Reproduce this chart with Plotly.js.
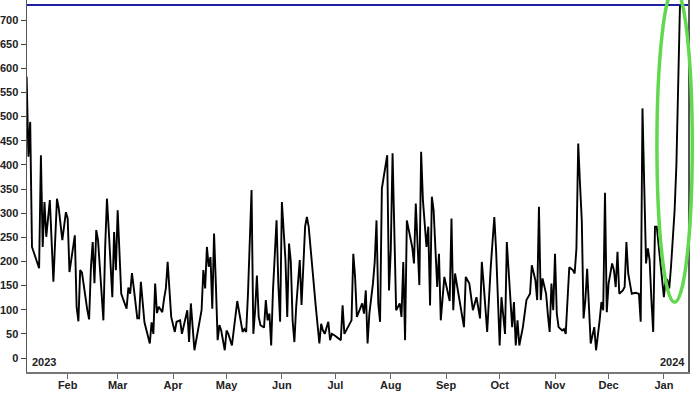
<!DOCTYPE html>
<html>
<head>
<meta charset="utf-8">
<script src="https://cdn.plot.ly/plotly-3.0.1.min.js"></script>
<style>html,body{margin:0;padding:0;background:#fff;}#chart{width:700px;height:394px;}</style>
</head>
<body>
<div id="chart"></div>
<script>
const dates = [
"2023-01-09","2023-01-10","2023-01-11","2023-01-12","2023-01-16","2023-01-17","2023-01-18","2023-01-19","2023-01-20","2023-01-22",
"2023-01-24","2023-01-26","2023-01-27","2023-01-29","2023-01-31","2023-02-01","2023-02-02","2023-02-04","2023-02-05","2023-02-06",
"2023-02-07","2023-02-08","2023-02-09","2023-02-12","2023-02-13","2023-02-14","2023-02-15","2023-02-16","2023-02-17","2023-02-18",
"2023-02-21","2023-02-22","2023-02-23","2023-02-24","2023-02-26","2023-02-27","2023-02-28","2023-03-01","2023-03-02","2023-03-03",
"2023-03-06","2023-03-07","2023-03-08","2023-03-09","2023-03-10","2023-03-12","2023-03-13","2023-03-14","2023-03-16","2023-03-19",
"2023-03-20","2023-03-21","2023-03-22","2023-03-23","2023-03-24","2023-03-26","2023-03-27","2023-03-28","2023-03-29","2023-03-30",
"2023-03-31","2023-04-02","2023-04-03","2023-04-05","2023-04-06","2023-04-09","2023-04-10","2023-04-11","2023-04-12","2023-04-13",
"2023-04-17","2023-04-18","2023-04-19","2023-04-20","2023-04-21","2023-04-22","2023-04-23","2023-04-24","2023-04-25","2023-04-26",
"2023-04-27","2023-04-28","2023-04-30","2023-05-01","2023-05-02","2023-05-04","2023-05-07","2023-05-08","2023-05-10","2023-05-11",
"2023-05-12","2023-05-13","2023-05-14","2023-05-15","2023-05-16","2023-05-17","2023-05-18","2023-05-19","2023-05-20","2023-05-22",
"2023-05-23","2023-05-24","2023-05-25","2023-05-26","2023-05-27","2023-05-28","2023-05-29","2023-05-30","2023-05-31","2023-06-01",
"2023-06-03","2023-06-04","2023-06-05","2023-06-06","2023-06-07","2023-06-08","2023-06-09","2023-06-11","2023-06-12","2023-06-13",
"2023-06-14","2023-06-15","2023-06-16","2023-06-20","2023-06-21","2023-06-22","2023-06-23","2023-06-24","2023-06-25","2023-06-27",
"2023-06-28","2023-06-29","2023-06-30","2023-07-04","2023-07-05","2023-07-06","2023-07-10","2023-07-11","2023-07-12","2023-07-13",
"2023-07-16","2023-07-17","2023-07-18","2023-07-19","2023-07-20","2023-07-22","2023-07-23","2023-07-24","2023-07-25","2023-07-26",
"2023-07-27","2023-07-30","2023-07-31","2023-08-01","2023-08-02","2023-08-04","2023-08-05","2023-08-06","2023-08-07","2023-08-08",
"2023-08-09","2023-08-10","2023-08-13","2023-08-14","2023-08-15","2023-08-17","2023-08-18","2023-08-19","2023-08-21","2023-08-22",
"2023-08-23","2023-08-24","2023-08-25","2023-08-27","2023-08-28","2023-08-29","2023-08-31","2023-09-03","2023-09-04","2023-09-05",
"2023-09-06","2023-09-07","2023-09-11","2023-09-12","2023-09-14","2023-09-16","2023-09-18","2023-09-20","2023-09-21","2023-09-22",
"2023-09-24","2023-09-26","2023-09-28","2023-09-29","2023-10-01","2023-10-02","2023-10-04","2023-10-05","2023-10-07","2023-10-08",
"2023-10-09","2023-10-10","2023-10-11","2023-10-12","2023-10-14","2023-10-16","2023-10-18","2023-10-19","2023-10-21","2023-10-22",
"2023-10-23","2023-10-24","2023-10-25","2023-10-27","2023-10-28","2023-10-29","2023-10-30","2023-10-31","2023-11-01","2023-11-02",
"2023-11-03","2023-11-05","2023-11-06","2023-11-07","2023-11-08","2023-11-09","2023-11-11","2023-11-12","2023-11-13","2023-11-14",
"2023-11-15","2023-11-16","2023-11-17","2023-11-18","2023-11-19","2023-11-20","2023-11-21","2023-11-23","2023-11-24","2023-11-26",
"2023-11-27","2023-11-28","2023-11-29","2023-11-30","2023-12-01","2023-12-03","2023-12-04","2023-12-05","2023-12-06","2023-12-07",
"2023-12-09","2023-12-10","2023-12-11","2023-12-12","2023-12-14","2023-12-16","2023-12-18","2023-12-19","2023-12-20","2023-12-21",
"2023-12-22","2023-12-23","2023-12-24","2023-12-25","2023-12-26","2023-12-27","2023-12-28","2024-01-01","2024-01-02","2024-01-03",
"2024-01-04","2024-01-05","2024-01-06","2024-01-07","2024-01-08","2024-01-09","2024-01-10"
];
const values = [
583,417,489,230,186,420,230,323,251,327,
158,330,310,244,302,289,178,230,254,106,
76,182,177,99,80,186,240,155,265,244,
78,230,330,265,126,261,182,306,216,133,
102,146,133,176,146,82,82,158,74,30,
74,50,154,93,106,95,123,144,199,140,
85,54,75,78,50,99,33,113,57,16,
99,182,144,230,189,209,102,258,154,37,
68,57,16,57,50,26,118,96,54,60,
54,133,265,348,50,99,171,85,68,63,
120,78,92,26,140,209,285,154,75,323,
203,85,237,200,78,33,106,203,110,189,
272,292,272,106,71,30,71,57,50,75,
37,50,48,37,109,50,78,216,168,85,
113,92,140,30,92,154,199,285,112,75,
351,420,140,223,424,99,106,113,85,199,
37,285,230,196,320,151,427,327,230,272,
109,334,306,147,216,78,168,118,289,99,
175,154,64,168,154,99,126,82,199,154,
54,189,292,223,26,126,50,240,106,64,
116,26,78,26,64,120,133,192,161,120,
313,120,165,133,90,54,154,99,216,92,
64,57,60,50,120,188,182,175,227,444,
361,285,82,120,185,92,30,64,16,78,
116,99,342,95,154,196,182,147,220,133,
140,147,240,175,133,135,133,75,517,354,
196,227,203,120,54,272,272,126,165,161,
144,190,244,306,400,560,731
];
const latestLevel = 731;
const yTickVals = [0,50,100,150,200,250,300,350,400,450,500,550,600,650,700];
const yearLabels = ["2023","2024"];

const tickFont = {family: "Liberation Sans, Arial, sans-serif", size: 11, color: "#222", weight: "bold"};

const trace = {
  x: dates, y: values, type: "scatter", mode: "lines",
  line: {color: "#000000", width: 1.9},
  hoverinfo: "skip", showlegend: false
};

const layout = {
  width: 700, height: 394,
  margin: {l: 27, r: 12, t: 0, b: 22, pad: 0},
  paper_bgcolor: "#ffffff", plot_bgcolor: "#ffffff",
  showlegend: false,
  xaxis: {
    type: "date",
    range: ["2023-01-09 05:00", "2024-01-14 12:00"],
    dtick: "M1", tick0: "2023-01-01", tickformat: "%b",
    ticks: "outside", ticklen: 5, tickwidth: 1, tickcolor: "#666",
    ticklabelstandoff: -3,
    showline: true, linecolor: "#777", linewidth: 1.5, mirror: false,
    showgrid: false, zeroline: false,
    tickfont: tickFont
  },
  yaxis: {
    range: [-29, 741.5],
    tickvals: yTickVals,
    ticks: "outside", ticklen: 5, tickwidth: 1, tickcolor: "#444",
    showline: true, linecolor: "#555", linewidth: 1.5, mirror: true,
    showgrid: false, zeroline: false,
    tickfont: tickFont
  },
  shapes: [
    {type: "line", xref: "paper", yref: "y", x0: 0, x1: 1, y0: latestLevel, y1: latestLevel,
     line: {color: "#1f1fa0", width: 2}},
    {type: "circle", xref: "paper", yref: "paper", x0: 0.953, x1: 1.0065, y0: 0.1875, y1: 1.032,
     line: {color: "#62d84e", width: 3.5}}
  ],
  annotations: [
    {text: yearLabels[0], xref: "paper", yref: "paper", x: 0.004, y: 0.005, xanchor: "left", yanchor: "bottom",
     showarrow: false, font: {family: "Liberation Sans, Arial, sans-serif", size: 11, color: "#222", weight: "bold"}},
    {text: yearLabels[1], xref: "paper", yref: "paper", x: 0.998, y: 0.005, xanchor: "right", yanchor: "bottom",
     showarrow: false, font: {family: "Liberation Sans, Arial, sans-serif", size: 11, color: "#222", weight: "bold"}}
  ]
};

Plotly.newPlot("chart", [trace], layout, {staticPlot: true, displayModeBar: false});
</script>
</body>
</html>
